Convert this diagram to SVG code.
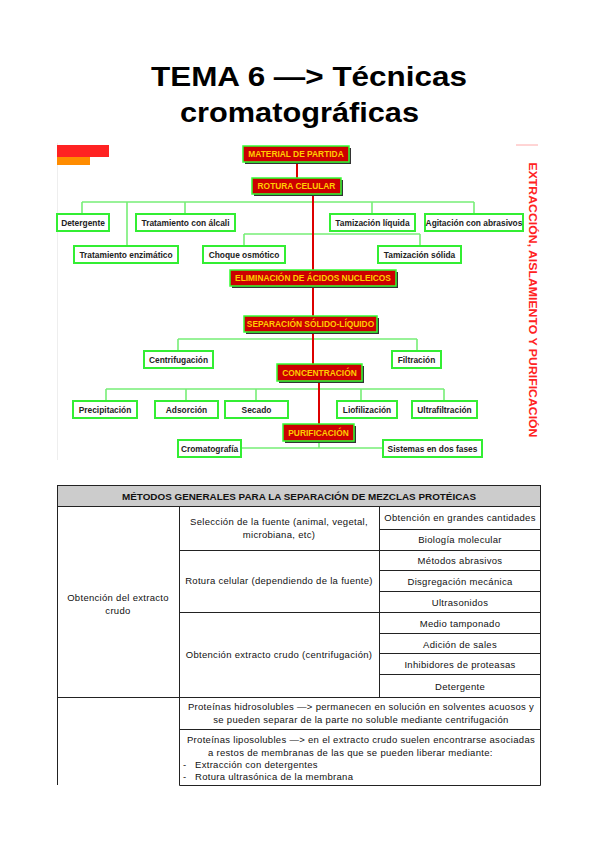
<svg xmlns="http://www.w3.org/2000/svg" width="599" height="848" viewBox="0 0 599 848">
<style>
.title{font-family:"Liberation Sans",Arial,sans-serif;font-weight:bold;font-size:27px;fill:#000;text-anchor:middle}
.rn rect.b{fill:#cc0000;stroke:#33ff33;stroke-width:1.5}
.rn rect.s{fill:#333}
.rn text{font-family:"Liberation Sans",Arial,sans-serif;font-weight:bold;font-size:8.4px;fill:#ffcc00;text-anchor:middle}
.wn rect{fill:#fff;stroke:#33ee33;stroke-width:2}
.wn text{font-family:"Liberation Sans",Arial,sans-serif;font-weight:bold;font-size:8.4px;fill:#222;text-anchor:middle}
.g{stroke:#77ee77;stroke-width:1.6;fill:none}
.r{stroke:#dd0000;stroke-width:2;fill:none}
.tl{stroke:#222;stroke-width:1;fill:none}
.tt{font-family:"Liberation Sans",Arial,sans-serif;font-size:9.5px;letter-spacing:0.3px;fill:#111;text-anchor:middle}
.tl2{font-family:"Liberation Sans",Arial,sans-serif;font-size:9.5px;letter-spacing:0.3px;fill:#111}
.th{font-family:"Liberation Sans",Arial,sans-serif;font-size:9.5px;font-weight:bold;fill:#111;text-anchor:middle}
</style>

<!-- Title -->
<text class="title" x="309" y="86" textLength="316" lengthAdjust="spacingAndGlyphs">TEMA 6 —&gt; Técnicas</text>
<text class="title" x="299.5" y="122" textLength="239" lengthAdjust="spacingAndGlyphs">cromatográficas</text>

<!-- diagram decoration -->
<line x1="57.5" y1="143" x2="57.5" y2="460" stroke="#eeeeee" stroke-width="1"/>
<rect x="57" y="145" width="52" height="12" fill="#ff2222"/>
<rect x="57" y="157" width="33" height="8" fill="#ff8c00"/>
<line x1="516" y1="145" x2="538" y2="145" stroke="#ffaaaa" stroke-width="1"/>
<text x="533" y="300" transform="rotate(90 533 300)" font-family="'Liberation Sans',Arial,sans-serif" font-weight="bold" font-size="11" fill="#ff2222" text-anchor="middle" dominant-baseline="central" textLength="275" lengthAdjust="spacingAndGlyphs">EXTRACCIÓN, AISLAMIENTO Y PURIFICACIÓN</text>

<!-- connectors -->
<g id="connectors">
  <path class="g" d="M82 202H474 M82 202V214 M127 202V246 M185 202V214 M372 202V214 M474 202V214"/>
  <path class="g" d="M244 234H420 M244 234V246 M420 234V246"/>
  <path class="g" d="M178 339H417 M178 339V351 M417 339V351"/>
  <path class="g" d="M106 389H444 M106 389V401 M186 389V401 M256 389V401 M361 389V401 M444 389V401"/>
  <path class="g" d="M241 448H383 M319 441V448"/>
  <path class="r" d="M297 162V178 M313 194V270 M313 286V316 M313 332V364 M319 381V424"/>
</g>

<!-- red nodes -->
<g id="n-material" class="rn"><rect class="s" x="245" y="148" width="106" height="16"/><rect class="b" x="243" y="146" width="106" height="16"/><text x="296" y="157">MATERIAL DE PARTIDA</text></g>
<g id="n-rotura" class="rn"><rect class="s" x="254" y="180" width="89" height="16"/><rect class="b" x="252" y="178" width="89" height="16"/><text x="296.5" y="189">ROTURA CELULAR</text></g>
<g id="n-eliminacion" class="rn"><rect class="s" x="232" y="272" width="166" height="16"/><rect class="b" x="230" y="270" width="166" height="16"/><text x="313" y="281">ELIMINACIÓN DE ÁCIDOS NUCLEICOS</text></g>
<g id="n-separacion" class="rn"><rect class="s" x="246" y="318" width="133" height="16"/><rect class="b" x="244" y="316" width="133" height="16"/><text x="310.5" y="327">SEPARACIÓN SÓLIDO-LÍQUIDO</text></g>
<g id="n-concentracion" class="rn"><rect class="s" x="279" y="366" width="85" height="17"/><rect class="b" x="277" y="364" width="85" height="17"/><text x="319.5" y="375.5">CONCENTRACIÓN</text></g>
<g id="n-purificacion" class="rn"><rect class="s" x="285" y="426" width="71" height="17"/><rect class="b" x="283" y="424" width="71" height="17"/><text x="318.5" y="435.5">PURIFICACIÓN</text></g>

<!-- white nodes -->
<g id="n-detergente" class="wn"><rect x="57" y="214" width="52" height="17"/><text x="83" y="225.5">Detergente</text></g>
<g id="n-alcali" class="wn"><rect x="136" y="214" width="99" height="17"/><text x="185.5" y="225.5">Tratamiento con álcali</text></g>
<g id="n-enzimatico" class="wn"><rect x="74" y="246" width="104" height="17"/><text x="126" y="257.5">Tratamiento enzimático</text></g>
<g id="n-choque" class="wn"><rect x="203" y="246" width="82" height="17"/><text x="244" y="257.5">Choque osmótico</text></g>
<g id="n-tliquida" class="wn"><rect x="330" y="214" width="85" height="17"/><text x="372.5" y="225.5">Tamización líquida</text></g>
<g id="n-agitacion" class="wn"><rect x="425" y="214" width="98" height="17"/><text x="474" y="225.5">Agitación con abrasivos</text></g>
<g id="n-tsolida" class="wn"><rect x="378" y="246" width="83" height="17"/><text x="419.5" y="257.5">Tamización sólida</text></g>
<g id="n-centrifugacion" class="wn"><rect x="144" y="351" width="69" height="17"/><text x="178.5" y="362.5">Centrifugación</text></g>
<g id="n-filtracion" class="wn"><rect x="392" y="351" width="49" height="17"/><text x="416.5" y="362.5">Filtración</text></g>
<g id="n-precipitacion" class="wn"><rect x="73" y="401" width="64" height="17"/><text x="105" y="412.5">Precipitación</text></g>
<g id="n-adsorcion" class="wn"><rect x="155" y="401" width="63" height="17"/><text x="186.5" y="412.5">Adsorción</text></g>
<g id="n-secado" class="wn"><rect x="225" y="401" width="63" height="17"/><text x="256.5" y="412.5">Secado</text></g>
<g id="n-liofilizacion" class="wn"><rect x="337" y="401" width="60" height="17"/><text x="367" y="412.5">Liofilización</text></g>
<g id="n-ultrafiltracion" class="wn"><rect x="412" y="401" width="65" height="17"/><text x="444.5" y="412.5">Ultrafiltración</text></g>
<g id="n-cromatografia" class="wn"><rect x="178" y="440" width="63" height="17"/><text x="209.5" y="451.5">Cromatografía</text></g>
<g id="n-sistemas" class="wn"><rect x="383" y="440" width="99" height="17"/><text x="432.5" y="451.5">Sistemas en dos fases</text></g>

<!-- table -->
<g id="table">
  <rect x="57.5" y="485.5" width="483" height="21" fill="#cccccc" stroke="#222" stroke-width="1"/>
  <text class="th" x="299" y="499.5" textLength="354" lengthAdjust="spacingAndGlyphs">MÉTODOS GENERALES PARA LA SEPARACIÓN DE  MEZCLAS PROTÉICAS</text>
  <path class="tl" d="M57.5 506.5V785 M540.5 506.5V785.5 M179.5 506.5V785.5 M379.5 506.5V697.5 M179.5 785.5H540.5
    M179.5 550.5H540.5 M179.5 612.5H540.5 M57.5 697.5H540.5 M179.5 729.5H540.5
    M379.5 529.5H540.5 M379.5 570.5H540.5 M379.5 591.5H540.5 M379.5 633.5H540.5 M379.5 653.5H540.5 M379.5 674.5H540.5"/>
  <text class="tt" x="118" y="601">Obtención del extracto</text>
  <text class="tt" x="118" y="614">crudo</text>
  <text class="tt" x="279" y="525">Selección de la fuente (animal, vegetal,</text>
  <text class="tt" x="279" y="538">microbiana, etc)</text>
  <text class="tt" x="279" y="584">Rotura celular (dependiendo de la fuente)</text>
  <text class="tt" x="279" y="658">Obtención extracto crudo (centrifugación)</text>
  <text class="tt" x="460" y="521">Obtención en grandes cantidades</text>
  <text class="tt" x="460" y="543">Biología molecular</text>
  <text class="tt" x="460" y="564">Métodos abrasivos</text>
  <text class="tt" x="460" y="584.5">Disgregación mecánica</text>
  <text class="tt" x="460" y="605.5">Ultrasonidos</text>
  <text class="tt" x="460" y="626.5">Medio tamponado</text>
  <text class="tt" x="460" y="647.5">Adición de sales</text>
  <text class="tt" x="460" y="668">Inhibidores de proteasas</text>
  <text class="tt" x="460" y="689.5">Detergente</text>
  <text class="tt" x="361" y="709.5">Proteínas hidrosolubles —&gt; permanecen en solución en solventes acuosos y</text>
  <text class="tt" x="361" y="722.5">se pueden separar de la parte no soluble mediante centrifugación</text>
  <text class="tt" x="361" y="743">Proteínas liposolubles —&gt; en el extracto crudo suelen encontrarse asociadas</text>
  <text class="tl2" x="208" y="755.5">a restos de membranas de las que se pueden liberar mediante:</text>
  <text class="tl2" x="183" y="767.5">-</text>
  <text class="tl2" x="195" y="767.5">Extracción con detergentes</text>
  <text class="tl2" x="183" y="779.5">-</text>
  <text class="tl2" x="195" y="779.5">Rotura ultrasónica de la membrana</text>
</g>
</svg>
